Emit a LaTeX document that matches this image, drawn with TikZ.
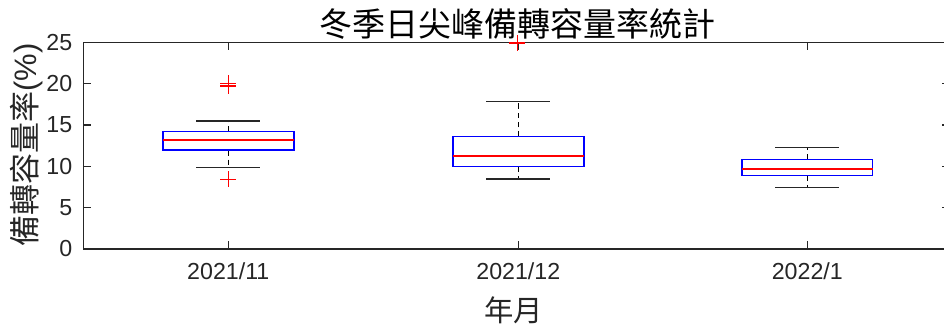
\documentclass[tikz,border=0pt]{standalone}
\usepackage{fontspec}
\setmainfont{Liberation Sans}
\newfontfamily\cjk{Noto Sans CJK TC}
\definecolor{axgray}{RGB}{38,38,38}
\begin{document}
\begin{tikzpicture}[x=0.75pt,y=-0.75pt,
  axisline/.style={draw=axgray,line width=0.9pt},
  ticklbl/.style={text=axgray,font=\fontsize{17.4pt}{19pt}\selectfont,inner sep=0pt},
  boxq/.style={draw=blue,line width=1.1pt},
  medline/.style={draw=red,line width=1.3pt},
  whiskcap/.style={draw=axgray,line width=0.95pt},
  whiskline/.style={draw=black,line width=0.9pt,dash pattern=on 4pt off 3pt},
  outl/.style={draw=red,line width=0.9pt}]
\useasboundingbox (0,0) rectangle (944,327);
\clip (0,0) rectangle (944,327);
% axes frame
\draw[axisline] (950,42.3) -- (83.3,42.3) -- (83.3,249) -- (950,249) -- (950,42.3);
% y ticks
\foreach \v in {0,5,...,25}{
  \pgfmathsetmacro{\yy}{249-\v*8.268}
  \draw[axisline] (83.3,\yy) -- (91.3,\yy);
  \draw[axisline] (950,\yy) -- (942,\yy);
  \node[ticklbl,anchor=east] (yt\v) at (72.5,\yy) {\v};
}
% x ticks
\foreach \xx/\lab/\nm in {228.3/2021\slash 11/a,518.3/2021\slash 12/b,807.3/2022\slash 1/c}{
  \draw[axisline] (\xx,249) -- (\xx,241);
  \draw[axisline] (\xx,42.3) -- (\xx,50.3);
  \node[ticklbl,anchor=base] (xt\nm) at (\xx,279.5) {\lab};
}
% boxplots: center, half box, half cap, Q3, Q1, median, UW, LW
\foreach \c/\hb/\hc/\qt/\qb/\md/\uw/\lw in {
  228.3/65.5/32/131.7/150.2/139.9/121/167.7,
  518.3/65.5/32/136.7/166.7/155.7/101.3/179,
  807.3/65.3/32/159.3/175.7/169.2/147.3/187.3}{
  \draw[whiskline] (\c,\qt) -- (\c,\uw);
  \draw[whiskline] (\c,\qb) -- (\c,\lw);
  \draw[whiskcap] (\c-\hc,\uw) -- (\c+\hc,\uw);
  \draw[whiskcap] (\c-\hc,\lw) -- (\c+\hc,\lw);
  \draw[boxq] (\c-\hb,\qt) rectangle (\c+\hb,\qb);
  \draw[medline] (\c-\hb,\md) -- (\c+\hb,\md);
}
% outliers
\foreach \ox/\oy in {228.3/83.3,228.3/86,228.3/179.5,517.3/43}{
  \draw[outl] (\ox-8,\oy) -- (\ox+8,\oy);
  \draw[outl] (\ox,\oy-8) -- (\ox,\oy+8);
}
% labels
\node[font=\cjk\fontsize{24.75pt}{26pt}\selectfont,inner sep=0pt] (title) at (517.5,23.5) {冬季日尖峰備轉容量率統計};
\node[font=\fontsize{22pt}{24pt}\selectfont,text=axgray,inner sep=0pt] (xlabel) at (513.5,310) {\cjk 年月};
\node[font=\fontsize{23.25pt}{25pt}\selectfont,text=axgray,inner sep=0pt,rotate=90] (ylabel) at (27,145) {{\cjk 備轉容量率}(\%)};
\end{tikzpicture}
\end{document}
